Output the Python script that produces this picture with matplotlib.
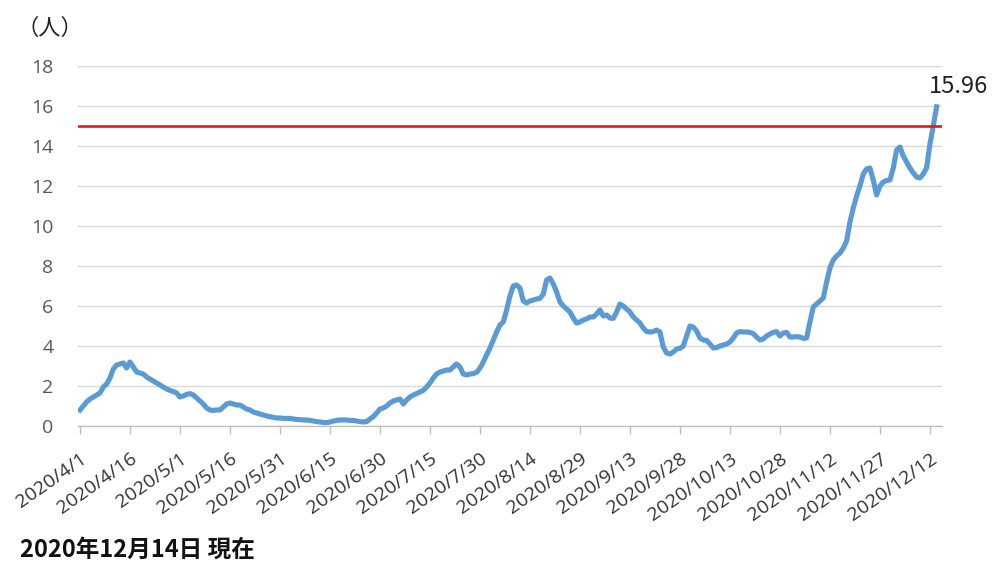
import numpy as np
import pandas as pd
import matplotlib
matplotlib.use("Agg")
import matplotlib.pyplot as plt
import matplotlib.transforms as mtransforms

# ---- data (daily values from 2020/4/1 to 2020/12/14) ----
start_date = "2020-04-01"
values = [
    0.80, 1.00, 1.20, 1.35, 1.45, 1.55, 1.65, 1.95, 2.10, 2.40,
    2.85, 3.05, 3.10, 3.15, 2.90, 3.20, 2.95, 2.70, 2.65, 2.60,
    2.45, 2.35, 2.25, 2.15, 2.05, 1.95, 1.85, 1.78, 1.72, 1.65,
    1.45, 1.50, 1.58, 1.62, 1.55, 1.40, 1.25, 1.10, 0.90, 0.80,
    0.78, 0.80, 0.80, 0.95, 1.10, 1.15, 1.10, 1.05, 1.05, 0.95,
    0.85, 0.80, 0.70, 0.65, 0.60, 0.55, 0.50, 0.47, 0.43, 0.40,
    0.40, 0.38, 0.38, 0.38, 0.35, 0.33, 0.32, 0.30, 0.30, 0.28,
    0.25, 0.22, 0.20, 0.18, 0.17, 0.20, 0.25, 0.28, 0.30, 0.30,
    0.30, 0.28, 0.28, 0.25, 0.22, 0.20, 0.22, 0.35, 0.47, 0.65,
    0.85, 0.90, 1.00, 1.15, 1.25, 1.30, 1.35, 1.10, 1.30, 1.45,
    1.55, 1.62, 1.70, 1.78, 1.95, 2.15, 2.40, 2.60, 2.70, 2.75,
    2.80, 2.80, 2.95, 3.10, 2.95, 2.60, 2.55, 2.60, 2.62, 2.68,
    2.90, 3.20, 3.55, 3.90, 4.30, 4.70, 5.05, 5.20, 5.80, 6.50,
    7.00, 7.05, 6.90, 6.25, 6.15, 6.25, 6.30, 6.35, 6.38, 6.60,
    7.30, 7.40, 7.10, 6.70, 6.20, 6.00, 5.85, 5.70, 5.40, 5.15,
    5.20, 5.30, 5.35, 5.45, 5.45, 5.60, 5.80, 5.50, 5.55, 5.40,
    5.38, 5.70, 6.10, 6.00, 5.85, 5.70, 5.45, 5.30, 5.15, 4.90,
    4.72, 4.70, 4.72, 4.80, 4.70, 3.95, 3.65, 3.60, 3.70, 3.85,
    3.88, 4.00, 4.50, 5.00, 4.95, 4.75, 4.40, 4.30, 4.28, 4.10,
    3.90, 3.92, 4.00, 4.05, 4.10, 4.20, 4.40, 4.65, 4.72, 4.70,
    4.70, 4.68, 4.62, 4.45, 4.30, 4.35, 4.50, 4.60, 4.68, 4.72,
    4.50, 4.65, 4.68, 4.45, 4.45, 4.47, 4.45, 4.38, 4.40, 5.20,
    5.95, 6.10, 6.25, 6.40, 7.20, 7.90, 8.30, 8.50, 8.65, 8.90,
    9.25, 10.20, 10.90, 11.50, 12.00, 12.60, 12.85, 12.90, 12.30, 11.55,
    12.00, 12.20, 12.28, 12.30, 12.90, 13.80, 13.95, 13.50, 13.20, 12.90,
    12.65, 12.45, 12.40, 12.60, 12.90, 14.10, 15.00, 15.96,
]
threshold = 15
last_label = "15.96"
tick_labels = ["2020/4/1", "2020/4/16", "2020/5/1", "2020/5/16", "2020/5/31",
               "2020/6/15", "2020/6/30", "2020/7/15", "2020/7/30", "2020/8/14",
               "2020/8/29", "2020/9/13", "2020/9/28", "2020/10/13", "2020/10/28",
               "2020/11/12", "2020/11/27", "2020/12/12"]
y_ticks = [0, 2, 4, 6, 8, 10, 12, 14, 16, 18]
unit_label = "（人）"
note_label = "2020年12月14日 現在"

dates = pd.date_range(start_date, periods=len(values), freq="D")
tick_dates = pd.to_datetime(tick_labels, format="%Y/%m/%d")

fig = plt.figure(figsize=(9.92, 5.61), dpi=100)
ax = fig.add_axes([78.3 / 992, 135 / 561, 863.3 / 992, 360 / 561])

ax.plot(dates, values, color="#5b9bd5", lw=3.7, solid_joinstyle="round", zorder=3)
ax.axhline(threshold, color="#e31a1c", lw=1.9, zorder=4)

ax.set_ylim(0, 18)
ax.set_xlim(dates[0] - pd.Timedelta(hours=12), dates[0] + pd.Timedelta(days=258.5))
ax.set_yticks(y_ticks)
ax.set_xticks(tick_dates)
ax.set_xticklabels(tick_labels)

num_font = "Open Sans"
for lab in ax.get_yticklabels():
    lab.set_fontfamily(num_font)
    lab.set_fontsize(14)
    lab.set_color("#595959")
for lab in ax.get_xticklabels():
    lab.set_fontfamily(num_font)
    lab.set_fontsize(14)
    lab.set_color("#333333")
    lab.set_rotation(35)
    lab.set_rotation_mode("anchor")
    lab.set_ha("right")
    lab.set_va("top")
    lab.set_transform(lab.get_transform() + mtransforms.ScaledTranslation(4 / 72, 0, fig.dpi_scale_trans))

ax.tick_params(axis="y", length=0, pad=18)
ax.tick_params(axis="x", length=6, width=1, color="#bfbfbf", pad=11)

ax.grid(axis="y", color="#d9d9d9", lw=1)
ax.set_axisbelow(True)
for s in ["top", "right", "left"]:
    ax.spines[s].set_visible(False)
ax.spines["bottom"].set_color("#bfbfbf")
ax.spines["bottom"].set_linewidth(1)

ax.annotate(last_label, xy=(dates[-1], values[-1]), xytext=(16, 6), textcoords="offset points",
            ha="center", va="bottom", fontsize=17, color="#222222",
            family=["Noto Sans CJK JP", "DejaVu Sans"])

fig.text(16 / 992, 1 - 28 / 561, unit_label, fontsize=16, va="center", ha="left",
         family=["Noto Sans CJK JP", "DejaVu Sans"], color="#222222")
fig.text(20 / 992, 1 - 550 / 561, note_label, fontsize=17, fontweight="bold", va="center", ha="left",
         family=["Noto Sans CJK JP", "DejaVu Sans"], color="#111111")

fig.savefig("out.png", dpi=100)
